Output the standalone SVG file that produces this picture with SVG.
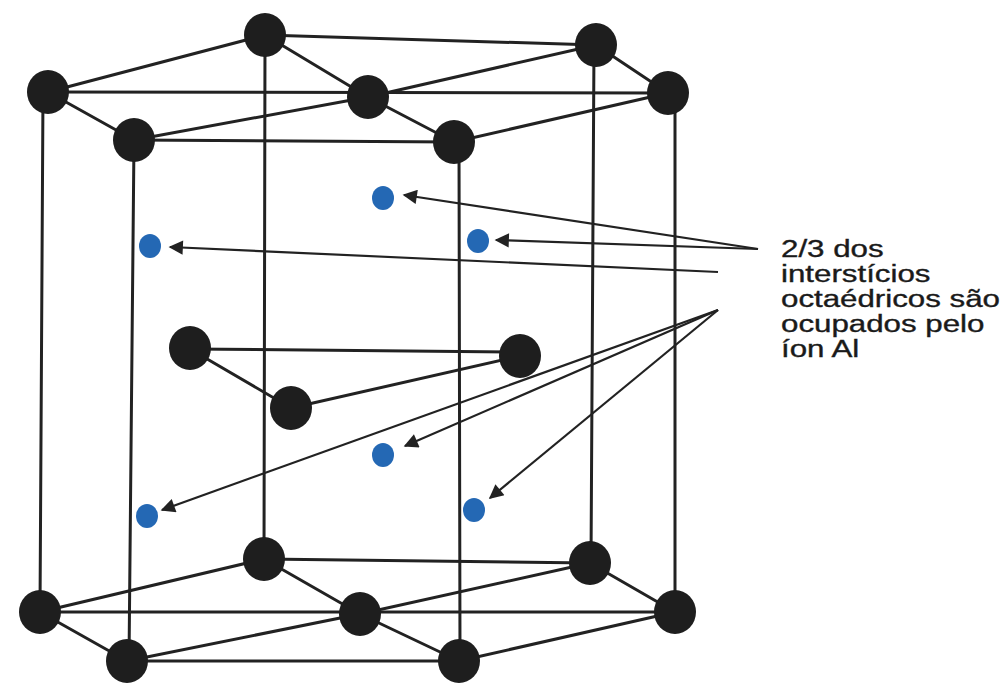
<svg xmlns="http://www.w3.org/2000/svg" width="1005" height="683" viewBox="0 0 1005 683">
  <style>
    .bond { stroke: #222; stroke-width: 3; fill: none; stroke-linecap: round; }
    .atom { fill: #1e1e1e; }
    .al { fill: #2468b4; }
    .ptr { stroke: #222; stroke-width: 2.2; fill: none; }
    .label { font-family: "Liberation Sans", Arial, sans-serif; font-size: 23px; fill: #1a1a1a; stroke: #1a1a1a; stroke-width: 0.35; }
  </style>
  <defs>
    <marker id="head" viewBox="0 0 10 10" refX="9" refY="5" markerWidth="8.5" markerHeight="6.5" markerUnits="strokeWidth" orient="auto">
      <path d="M0,0 L10,5 L0,10 z" fill="#222"/>
    </marker>
  </defs>
  <rect width="1005" height="683" fill="#fff"/>

  <!-- bonds: top face, bottom face, vertical edges, middle layer -->
  <g id="connectors">
    <g id="top-face">
      <line class="bond" x1="48" y1="92" x2="265" y2="35"/>
      <line class="bond" x1="265" y1="35" x2="596" y2="45"/>
      <line class="bond" x1="265" y1="35" x2="368" y2="97"/>
      <line class="bond" x1="368" y1="97" x2="596" y2="45"/>
      <line class="bond" x1="596" y1="45" x2="668" y2="93"/>
      <line class="bond" x1="48" y1="92" x2="668" y2="93"/>
      <line class="bond" x1="48" y1="92" x2="134" y2="140"/>
      <line class="bond" x1="134" y1="140" x2="368" y2="97"/>
      <line class="bond" x1="368" y1="97" x2="454" y2="142"/>
      <line class="bond" x1="134" y1="140" x2="454" y2="142"/>
      <line class="bond" x1="454" y1="142" x2="668" y2="93"/>
    </g>
    <g id="bottom-face">
      <line class="bond" x1="40" y1="612" x2="264" y2="559"/>
      <line class="bond" x1="264" y1="559" x2="590" y2="563"/>
      <line class="bond" x1="264" y1="559" x2="360" y2="614"/>
      <line class="bond" x1="360" y1="614" x2="590" y2="563"/>
      <line class="bond" x1="590" y1="563" x2="675" y2="612"/>
      <line class="bond" x1="40" y1="612" x2="675" y2="612"/>
      <line class="bond" x1="40" y1="612" x2="127" y2="661"/>
      <line class="bond" x1="127" y1="661" x2="360" y2="614"/>
      <line class="bond" x1="360" y1="614" x2="459" y2="661"/>
      <line class="bond" x1="127" y1="661" x2="459" y2="661"/>
      <line class="bond" x1="459" y1="661" x2="675" y2="612"/>
    </g>
    <g id="verticals">
      <line class="bond" x1="43" y1="92" x2="40" y2="612"/>
      <line class="bond" x1="134" y1="140" x2="129" y2="661"/>
      <line class="bond" x1="265" y1="35" x2="264" y2="559"/>
      <line class="bond" x1="459" y1="142" x2="460" y2="661"/>
      <line class="bond" x1="594" y1="45" x2="591" y2="563"/>
      <line class="bond" x1="675" y1="93" x2="675" y2="612"/>
    </g>
    <g id="middle-layer">
      <line class="bond" x1="190" y1="349" x2="520" y2="352"/>
      <line class="bond" x1="190" y1="349" x2="291" y2="408"/>
      <line class="bond" x1="291" y1="408" x2="520" y2="356"/>
    </g>
    <g id="pointers">
      <line class="ptr" x1="758" y1="249" x2="404" y2="195" marker-end="url(#head)"/>
      <line class="ptr" x1="758" y1="249" x2="496" y2="240" marker-end="url(#head)"/>
      <line class="ptr" x1="718" y1="272" x2="170" y2="247" marker-end="url(#head)"/>
      <line class="ptr" x1="718" y1="310" x2="162" y2="510" marker-end="url(#head)"/>
      <line class="ptr" x1="718" y1="310" x2="405" y2="446" marker-end="url(#head)"/>
      <line class="ptr" x1="718" y1="310" x2="490" y2="498" marker-end="url(#head)"/>
    </g>
  </g>

  <!-- atoms -->
  <g id="top-atoms">
    <ellipse class="atom" cx="265" cy="35" rx="21" ry="22"/>
    <ellipse class="atom" cx="596" cy="45" rx="21" ry="22"/>
    <ellipse class="atom" cx="48" cy="92" rx="21" ry="22"/>
    <ellipse class="atom" cx="368" cy="97" rx="21" ry="22"/>
    <ellipse class="atom" cx="668" cy="93" rx="21" ry="22"/>
    <ellipse class="atom" cx="134" cy="140" rx="21" ry="22"/>
    <ellipse class="atom" cx="454" cy="142" rx="21" ry="22"/>
  </g>
  <g id="middle-atoms">
    <ellipse class="atom" cx="190" cy="348" rx="21" ry="22"/>
    <ellipse class="atom" cx="291" cy="408" rx="21" ry="22"/>
    <ellipse class="atom" cx="520" cy="356" rx="21" ry="22"/>
  </g>
  <g id="bottom-atoms">
    <ellipse class="atom" cx="264" cy="559" rx="21" ry="22"/>
    <ellipse class="atom" cx="590" cy="563" rx="21" ry="22"/>
    <ellipse class="atom" cx="40" cy="612" rx="21" ry="22"/>
    <ellipse class="atom" cx="360" cy="614" rx="21" ry="22"/>
    <ellipse class="atom" cx="675" cy="612" rx="21" ry="22"/>
    <ellipse class="atom" cx="127" cy="661" rx="21" ry="22"/>
    <ellipse class="atom" cx="459" cy="661" rx="21" ry="22"/>
  </g>
  <g id="al-ions">
    <ellipse class="al" cx="383" cy="198" rx="11" ry="12"/>
    <ellipse class="al" cx="150" cy="246" rx="11" ry="12"/>
    <ellipse class="al" cx="478" cy="241" rx="11" ry="12"/>
    <ellipse class="al" cx="383" cy="455" rx="11" ry="12"/>
    <ellipse class="al" cx="147" cy="516" rx="11" ry="12"/>
    <ellipse class="al" cx="474" cy="510" rx="11" ry="12"/>
  </g>

  <!-- caption, stretched horizontally to the wide lettering -->
  <g id="caption" transform="translate(781,0) scale(1.36,1)">
    <text class="label" x="0" y="257">2/3 dos</text>
    <text class="label" x="0" y="282">interstícios</text>
    <text class="label" x="0" y="307">octaédricos são</text>
    <text class="label" x="0" y="332">ocupados pelo</text>
    <text class="label" x="0" y="357">íon Al</text>
  </g>
</svg>
